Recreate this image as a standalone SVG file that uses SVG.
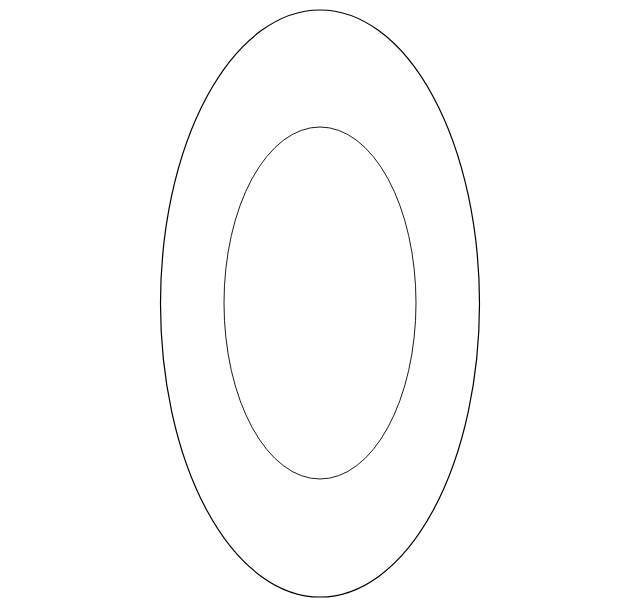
<svg xmlns="http://www.w3.org/2000/svg" width="640" height="607" viewBox="0 0 640 607">
<style>
.ring{fill:none;stroke:#000}
</style>
<rect width="640" height="607" fill="#fff"/>
<g id="outer"><ellipse class="ring" cx="320" cy="303.5" rx="159.5" ry="293.5" stroke-width="1.2"/></g>
<g id="inner"><ellipse class="ring" cx="320" cy="303" rx="96" ry="176" stroke-width="0.9"/></g>
</svg>
